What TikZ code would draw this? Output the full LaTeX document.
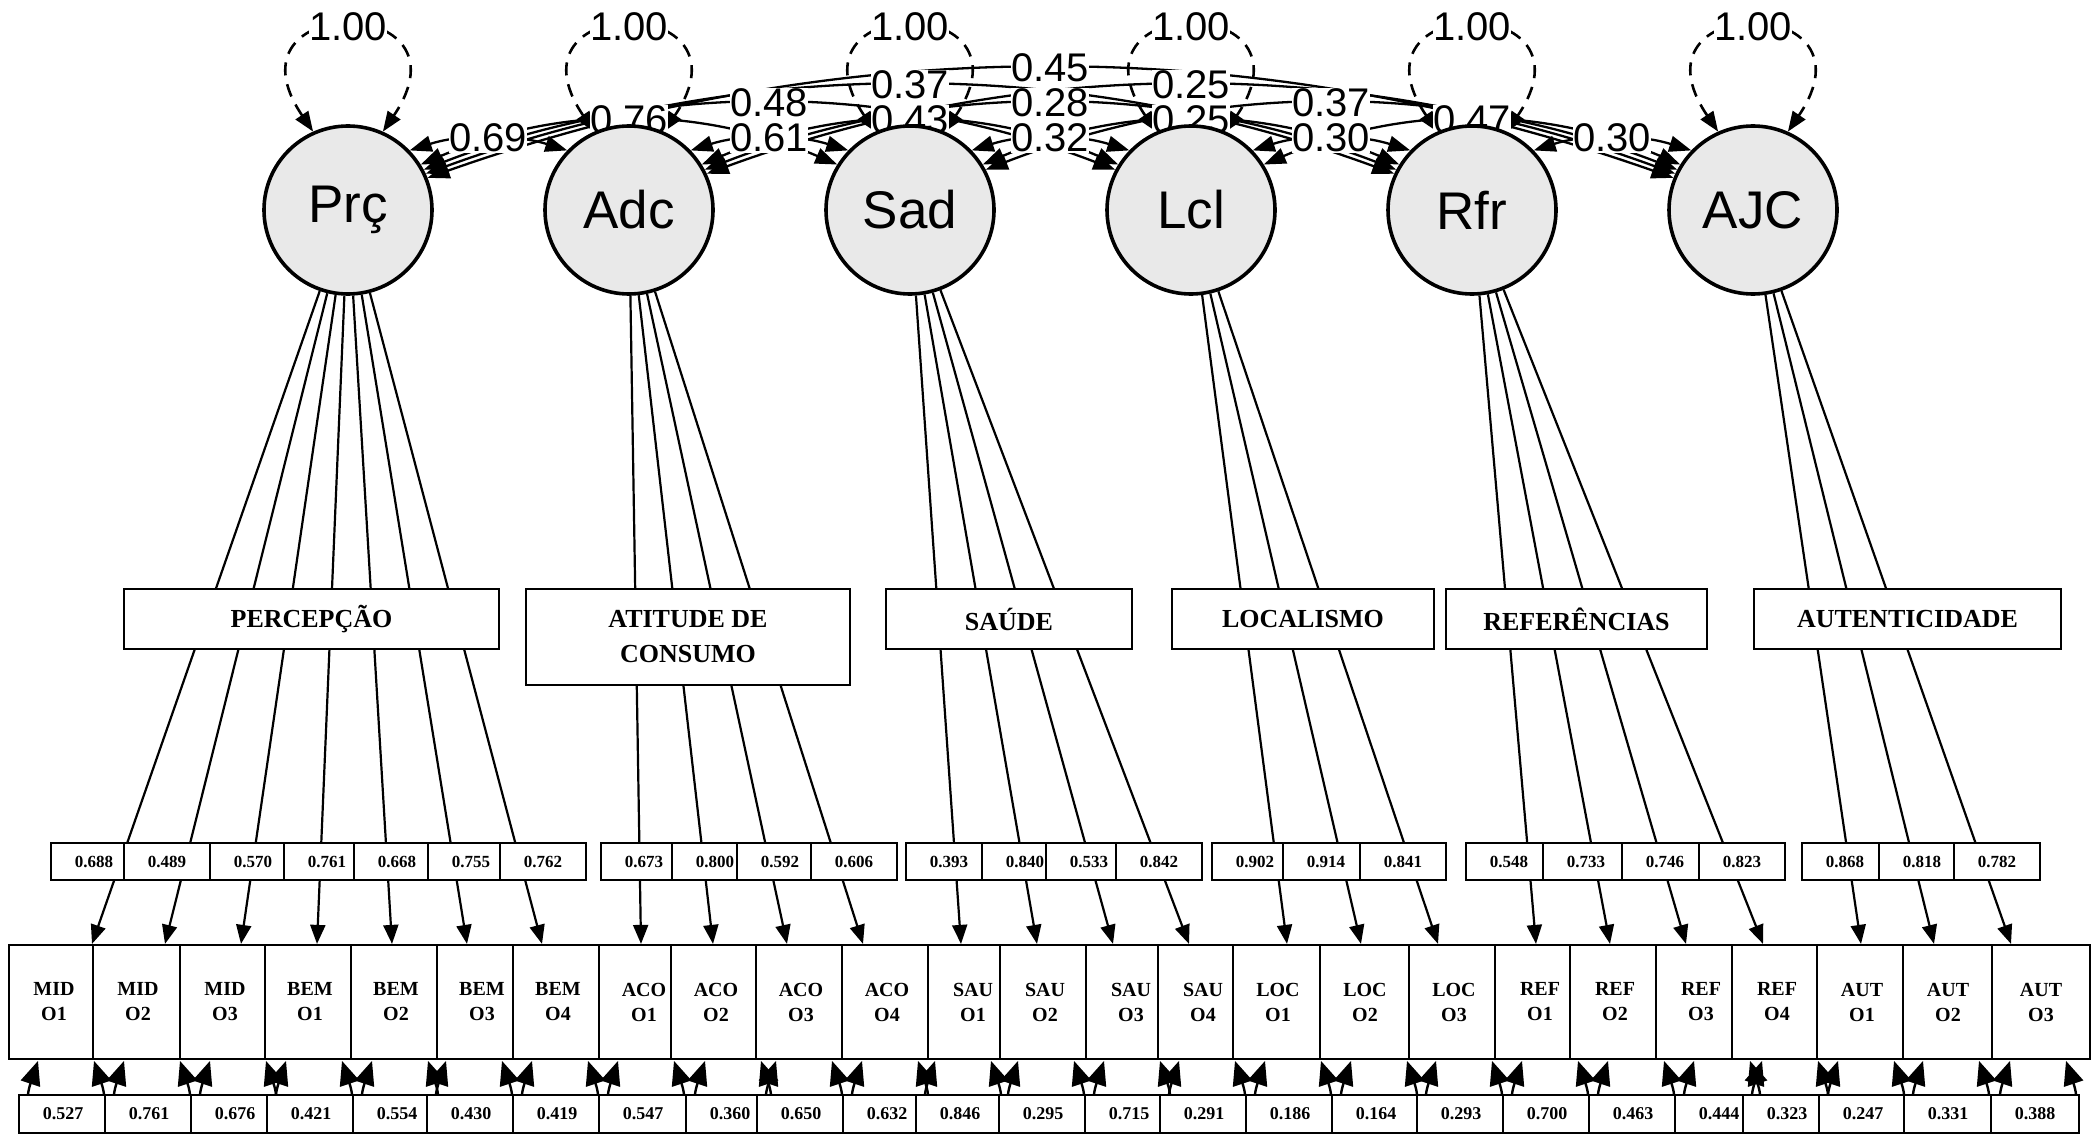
\documentclass[tikz,border=0pt]{standalone}
\usepackage{fontspec}
\setmainfont{Liberation Serif}
\setsansfont{Liberation Sans}
\usetikzlibrary{arrows.meta,calc}
\pgfdeclarelayer{bg}
\pgfdeclarelayer{edges}
\pgfdeclarelayer{labels}
\pgfsetlayers{bg,edges,labels,main}

% covariance arc through the centre of its label node
\newcommand\covarc[3]{\draw[cov] (#1) .. controls ($1.3333*(#2)-0.3333*(#3)$) and ($1.3333*(#2)-0.3333*(#1)$) .. (#3);}

\begin{document}
\begin{tikzpicture}[x=1pt,y=-1pt,
  lat/.style={circle,draw,line width=3.6pt,fill=gray!17,minimum size=168pt,inner sep=0pt,
    font=\fontsize{53}{60}\selectfont\sffamily},
  covlab/.style={fill=white,inner sep=0.5pt,font=\fontsize{40}{44}\selectfont\sffamily},
  cov/.style={line width=2.3pt,<->,>={Triangle[length=22pt,width=16pt]}},
  vloop/.style={line width=2.6pt,dash pattern=on 13pt off 9pt,<->,>={Triangle[length=20pt,width=15pt]}},
  load/.style={line width=2.2pt,->,>={Triangle[length=19pt,width=15pt]}},
  rloop/.style={line width=2.4pt,<->,>={Triangle[length=24pt,width=20pt]}},
  fac/.style={draw,fill=white,line width=2.2pt,inner sep=0pt,align=center,
    font=\fontsize{26}{35}\selectfont\bfseries},
  ind/.style={draw,fill=white,line width=2.2pt,minimum width=90pt,minimum height=114pt,inner sep=0pt,
    align=center,font=\fontsize{20}{25}\selectfont\bfseries},
  cell/.style={draw,fill=white,line width=2.2pt,minimum width=86pt,minimum height=37pt,inner sep=0pt,
    font=\fontsize{17}{20}\selectfont\bfseries},
  rcell/.style={draw,fill=white,line width=2.2pt,minimum width=88pt,minimum height=38pt,inner sep=0pt,
    font=\fontsize{18}{20}\selectfont\bfseries}]

\useasboundingbox (0,0) rectangle (2098,1134);
\begin{pgfonlayer}{bg}
  \fill[white] (0,0) rectangle (2098,1134);
\end{pgfonlayer}

% latent variables
\node[lat] (prc) at (348,210) {Prç};
\node[lat] (adc) at (629,210) {Adc};
\node[lat] (sad) at (910,210) {Sad};
\node[lat] (lcl) at (1191,210) {Lcl};
\node[lat] (rfr) at (1472,210) {Rfr};
\node[lat] (ajc) at (1753,210) {AJC};

% variance and covariance labels
\begin{pgfonlayer}{labels}
  \foreach \n/\x in {prc/348,adc/629,sad/910,lcl/1191,rfr/1472,ajc/1753}
    \node[covlab] (v\n) at (\x,27) {1.00};
  \node[covlab] (k12) at (488,138) {0.69};
  \node[covlab] (k23) at (769,138) {0.61};
  \node[covlab] (k34) at (1050,138) {0.32};
  \node[covlab] (k45) at (1331,138) {0.30};
  \node[covlab] (k56) at (1612,138) {0.30};
  \node[covlab] (k13) at (629,120) {0.76};
  \node[covlab] (k24) at (910,120) {0.43};
  \node[covlab] (k35) at (1191,120) {0.25};
  \node[covlab] (k46) at (1472,120) {0.47};
  \node[covlab] (k14) at (769,103) {0.48};
  \node[covlab] (k25) at (1050,103) {0.28};
  \node[covlab] (k36) at (1331,103) {0.37};
  \node[covlab] (k15) at (910,85) {0.37};
  \node[covlab] (k26) at (1191,85) {0.25};
  \node[covlab] (k16) at (1050,68) {0.45};
\end{pgfonlayer}

% factor label boxes
\node[fac,minimum width=375pt,minimum height=60pt] (fperc) at (311.5,619) {PERCEPÇÃO};
\node[fac,minimum width=324pt,minimum height=96pt] (fatit) at (688,637) {ATITUDE DE\\CONSUMO};
\node[fac,minimum width=246pt,minimum height=60pt] (fsaud) at (1009,619) {SAÚDE};
\node[fac,minimum width=262pt,minimum height=60pt] (floc) at (1303,619) {LOCALISMO};
\node[fac,minimum width=261pt,minimum height=60pt] (fref) at (1576.5,619) {REFERÊNCIAS};
\node[fac,minimum width=307pt,minimum height=60pt] (faut) at (1907.5,619) {AUTENTICIDADE};

% loading values
\foreach \n/\x/\v in {m1/94/0.688,m2/167/0.489,m3/253/0.570,m4/327/0.761,m5/397/0.668,m6/471/0.755,m7/543/0.762,
  m8/644/0.673,m9/715/0.800,m10/780/0.592,m11/854/0.606,
  m12/949/0.393,m13/1025/0.840,m14/1089/0.533,m15/1159/0.842,
  m16/1255/0.902,m17/1326/0.914,m18/1403/0.841,
  m19/1509/0.548,m20/1586/0.733,m21/1665/0.746,m22/1742/0.823,
  m23/1845/0.868,m24/1922/0.818,m25/1997/0.782}
  \node[cell] (\n) at (\x,861.5) {\v};

% observed indicators
\foreach \n/\x/\a/\b in {mo1/54/MID/O1,mo2/138/MID/O2,mo3/225/MID/O3,
  bo1/310/BEM/O1,bo2/396/BEM/O2,bo3/482/BEM/O3,bo4/558/BEM/O4,
  ao1/644/ACO/O1,ao2/716/ACO/O2,ao3/801/ACO/O3,ao4/887/ACO/O4,
  so1/973/SAU/O1,so2/1045/SAU/O2,so3/1131/SAU/O3,so4/1203/SAU/O4,
  lo1/1278/LOC/O1,lo2/1365/LOC/O2,lo3/1454/LOC/O3,
  ro1/1540/REF/O1,ro2/1615/REF/O2,ro3/1701/REF/O3,ro4/1777/REF/O4,
  uo1/1862/AUT/O1,uo2/1948/AUT/O2}
  \node[ind] (\n) at (\x,1002) {\a\\\b};
\node[ind,minimum width=98pt] (uo3) at (2041,1002) {AUT\\O3};

% residual variances
\foreach \n/\x/\v in {r1/63/0.527,r2/149/0.761,r3/235/0.676,r4/311/0.421,r5/397/0.554,r6/471/0.430,r7/557/0.419,
  r8/643/0.547,r9/730/0.360,r10/801/0.650,r11/887/0.632,
  r12/960/0.846,r13/1043/0.295,r14/1129/0.715,r15/1204/0.291,
  r16/1290/0.186,r17/1376/0.164,r18/1461/0.293,
  r19/1547/0.700,r20/1633/0.463,r21/1719/0.444,r22/1787/0.323,
  r23/1863/0.247,r24/1948/0.331,r25/2035/0.388}
  \node[rcell] (\n) at (\x,1114) {\v};

\begin{pgfonlayer}{edges}
  % variances of the latent variables
  \foreach \n in {prc,adc,sad,lcl,rfr,ajc}
    \draw[vloop] (\n.114) .. controls +(-95,-140) and +(95,-140) .. (\n.66);
  % covariances
  \covarc{prc.44}{k12}{adc.136}
  \covarc{adc.44}{k23}{sad.136}
  \covarc{sad.44}{k34}{lcl.136}
  \covarc{lcl.44}{k45}{rfr.136}
  \covarc{rfr.44}{k56}{ajc.136}
  \covarc{prc.32}{k13}{sad.148}
  \covarc{adc.32}{k24}{lcl.148}
  \covarc{sad.32}{k35}{rfr.148}
  \covarc{lcl.32}{k46}{ajc.148}
  \covarc{prc.28}{k14}{lcl.152}
  \covarc{adc.28}{k25}{rfr.152}
  \covarc{sad.28}{k36}{ajc.152}
  \covarc{prc.25}{k15}{rfr.155}
  \covarc{adc.25}{k26}{ajc.155}
  \covarc{prc.22}{k16}{ajc.158}
  % factor loadings
  \foreach \l/\n/\o in {prc/mo1/38,prc/mo2/27,prc/mo3/16,prc/bo1/7,prc/bo2/-4,prc/bo3/-15,prc/bo4/-16,
    adc/ao1/-3,adc/ao2/-3,adc/ao3/-14,adc/ao4/-24,
    sad/so1/-12,sad/so2/-8,sad/so3/-18,sad/so4/-14,
    lcl/lo1/9,lcl/lo2/-4,lcl/lo3/-16,
    rfr/ro1/-4,rfr/ro2/-5,rfr/ro3/-15,rfr/ro4/-14,
    ajc/uo1/-1,ajc/uo2/-14,ajc/uo3/-30}
    \draw[load] (\l) -- ([xshift=\o pt]\n.north);
  % residual loops
  \foreach \n in {r1,r2,r3,r4,r5,r6,r7,r8,r9,r10,r11,r12,r13,r14,r15,r16,r17,r18,r19,r20,r21,r22,r23,r24,r25}
    \draw[rloop] ([xshift=-25pt,yshift=33pt]\n.north) .. controls +(-30,90) and +(30,90) .. ([xshift=31pt,yshift=33pt]\n.north);
\end{pgfonlayer}
\end{tikzpicture}
\end{document}
